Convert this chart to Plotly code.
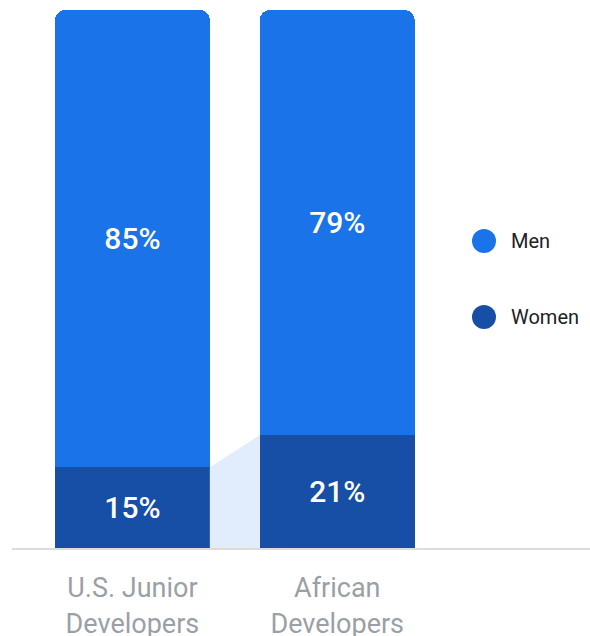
import plotly.graph_objects as go

categories = ["U.S. Junior<br>Developers", "African<br>Developers"]
women = [15, 21]
men = [85, 79]
series_names = ["Men", "Women"]

MEN_COLOR = "#1a73e8"
WOMEN_COLOR = "#174ea6"
CONNECT_COLOR = "#e1ecfc"
BAR_W = 0.756
xs = [0, 1]

fig = go.Figure()

# connector between women segments
half = BAR_W / 2
fig.add_trace(go.Scatter(
    x=[xs[0] + half, xs[1] - half, xs[1] - half, xs[0] + half],
    y=[women[0], women[1], 0, 0],
    fill="toself", fillcolor=CONNECT_COLOR, mode="lines",
    line=dict(width=0, color=CONNECT_COLOR), hoverinfo="skip", showlegend=False,
))

label_font = dict(color="white", size=30, family="Roboto", weight=500)
fig.add_trace(go.Bar(
    x=xs, y=women, name=series_names[1], marker=dict(color=WOMEN_COLOR, line=dict(width=0)),
    width=BAR_W, text=[f"{v}%" for v in women], textposition="inside",
    insidetextanchor="middle", textfont=label_font, showlegend=False,
))
fig.add_trace(go.Bar(
    x=xs, y=men, name=series_names[0], marker=dict(color=MEN_COLOR, line=dict(width=0)),
    width=BAR_W, text=[f"{v}%" for v in men], textposition="inside",
    insidetextanchor="middle", textfont=label_font, showlegend=False,
))

# legend drawn as circles + text (plot area spans 578 x 538 px)
PW, PH = 578, 538
legend_items = [(series_names[0], MEN_COLOR, 241), (series_names[1], WOMEN_COLOR, 317)]
shapes = []
annotations = []
for name, color, ypx in legend_items:
    yp = (548 - ypx) / PH
    cx = (484 - 12) / PW
    rx = 12 / PW
    ry = 12 / PH
    shapes.append(dict(type="circle", xref="paper", yref="paper",
                       x0=cx - rx, x1=cx + rx, y0=yp - ry, y1=yp + ry,
                       fillcolor=color, line=dict(width=0)))
    annotations.append(dict(text=name, xref="paper", yref="paper",
                            x=(509 - 12) / PW, y=yp, xanchor="left", yanchor="middle",
                            showarrow=False, font=dict(size=20, color="#202124", family="Roboto", weight=400)))

fig.update_layout(
    barmode="stack",
    barcornerradius=10,
    width=590, height=636,
    margin=dict(l=12, r=0, t=10, b=88, autoexpand=False),
    plot_bgcolor="white", paper_bgcolor="white",
    shapes=shapes, annotations=annotations,
    xaxis=dict(range=[-0.588, 2.234], tickmode="array", tickvals=xs, ticktext=categories,
               showgrid=False, zeroline=False, showline=True, linecolor="#dadce0", linewidth=2,
               tickfont=dict(size=27, color="#9aa0a6", family="Roboto"), ticks="",
               ticklabelstandoff=15, automargin=False, fixedrange=True),
    yaxis=dict(range=[0, 100], visible=False, showgrid=False, zeroline=False,
               automargin=False, fixedrange=True),
    showlegend=False,
)

fig.write_html(
    "out.html",
    config={"displayModeBar": False},
    post_script="document.body.style.margin='0';document.body.style.overflow='hidden';",
)
